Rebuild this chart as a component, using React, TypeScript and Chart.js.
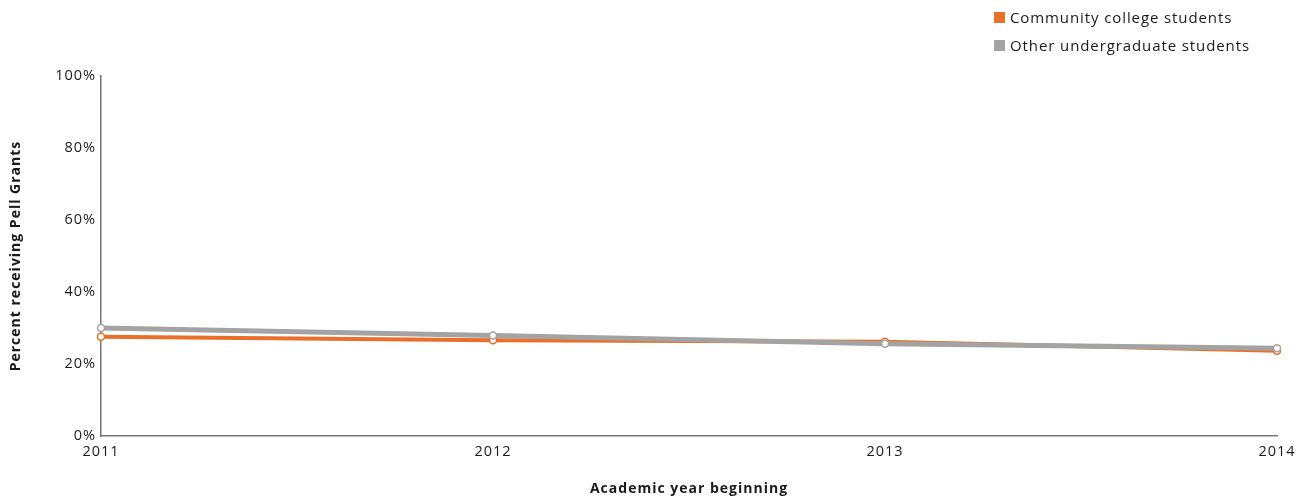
import React, { useEffect, useRef } from "react";
import { Chart, registerables } from "chart.js";

Chart.register(...registerables);

const years = ["2011", "2012", "2013", "2014"];
const communityCollege = [27.6, 26.6, 26.2, 23.7];
const otherUndergrad = [30.0, 27.9, 25.6, 24.4];
const yTicks = [0, 20, 40, 60, 80, 100];

const ORANGE = "#E8702A";
const GRAY = "#A3A3A3";
const AXIS = "#767676";
const FONT = "'Open Sans', 'Noto Sans', sans-serif";
const SPACING = "1px";

const spacingPlugin = {
  id: "spacing",
  beforeUpdate(chart: any) {
    chart.ctx.letterSpacing = SPACING;
  },
  beforeLayout(chart: any) {
    chart.ctx.letterSpacing = SPACING;
  },
  beforeDraw(chart: any) {
    chart.ctx.letterSpacing = SPACING;
  },
};

export default function App() {
  const ref = useRef<HTMLCanvasElement>(null);

  useEffect(() => {
    if (!ref.current) return;
    const chart = new Chart(ref.current, {
      type: "line",
      data: {
        labels: years,
        datasets: [
          {
            label: "Community college students",
            data: communityCollege,
            borderColor: ORANGE,
            backgroundColor: "#ffffff",
            borderWidth: 4,
            pointRadius: 3.5,
            pointBorderWidth: 1.5,
            pointBorderColor: ORANGE,
            pointBackgroundColor: "#ffffff",
            tension: 0,
            order: 1,
          },
          {
            label: "Other undergraduate students",
            data: otherUndergrad,
            borderColor: GRAY,
            backgroundColor: "#ffffff",
            borderWidth: 5,
            pointRadius: 3.5,
            pointBorderWidth: 1.5,
            pointBorderColor: GRAY,
            pointBackgroundColor: "#ffffff",
            tension: 0,
            order: 0,
          },
        ],
      },
      options: {
        animation: false,
        responsive: true,
        maintainAspectRatio: false,
        layout: { padding: { top: 68, right: 22, left: 0, bottom: 0 } },
        plugins: {
          legend: { display: false },
          tooltip: { enabled: false },
        },
        scales: {
          x: {
            type: "category",
            offset: false,
            grid: { display: false, drawTicks: false },
            border: { display: true, color: AXIS, width: 1.5 },
            ticks: {
              color: "#1a1a1a",
              font: { family: FONT, size: 14.5 },
              padding: 7,
              maxRotation: 0,
              autoSkip: false,
            },
            title: {
              display: true,
              text: "Academic year beginning",
              color: "#1a1a1a",
              font: { family: FONT, size: 14, weight: "bold" },
              padding: { top: 0, bottom: 2 },
            },
            afterFit(scale: any) {
              scale.height = 63;
              scale.paddingRight = 0;
              scale.paddingLeft = 0;
            },
          },
          y: {
            min: 0,
            max: 100,
            afterBuildTicks(scale: any) {
              scale.ticks = yTicks.map((v) => ({ value: v }));
            },
            grid: { display: false, drawTicks: false },
            border: { display: true, color: AXIS, width: 1.5 },
            ticks: {
              color: "#1a1a1a",
              font: { family: FONT, size: 14.5 },
              padding: 5,
              callback: (v: any) => v + "%",
            },
            title: {
              display: true,
              text: "Percent receiving Pell Grants",
              color: "#1a1a1a",
              font: { family: FONT, size: 14, weight: "bold" },
              padding: { top: 0, bottom: 0 },
            },
            afterFit(scale: any) {
              scale.width = 93;
            },
          },
        },
      },
      plugins: [spacingPlugin],
    } as any);
    return () => chart.destroy();
  }, []);

  const legendItems = [
    { label: "Community college students", color: ORANGE },
    { label: "Other undergraduate students", color: GRAY },
  ];

  return (
    <div style={{ position: "relative", width: 1291, height: 491 }}>
      <canvas ref={ref} />
      <div
        style={{
          position: "absolute",
          left: 986,
          top: 0,
          fontFamily: FONT,
          fontSize: 15,
          letterSpacing: "0.9px",
          color: "#1a1a1a",
        }}
      >
        {legendItems.map((it) => (
          <div
            key={it.label}
            style={{ display: "flex", alignItems: "center", height: 18, marginBottom: 10 }}
          >
            <span
              style={{
                display: "inline-block",
                width: 11,
                height: 11,
                background: it.color,
                marginRight: 5,
              }}
            />
            <span>{it.label}</span>
          </div>
        ))}
      </div>
    </div>
  );
}
